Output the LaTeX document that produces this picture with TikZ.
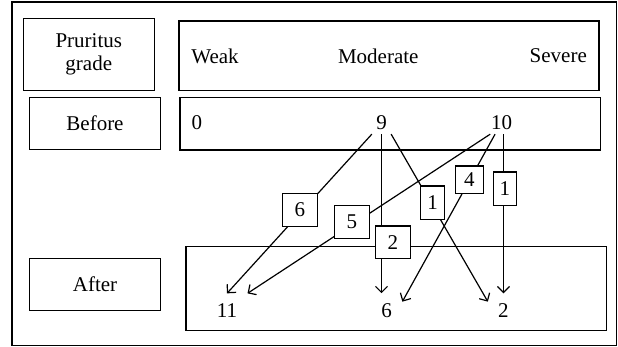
\documentclass[tikz,border=0pt]{standalone}
\usepackage{fontspec}
\setmainfont{Liberation Serif}
\usepackage{tikz}
\usetikzlibrary{arrows.meta}

\begin{document}
\begin{tikzpicture}[x=0.5pt,y=-0.5pt,font=\fontsize{10.5}{11.5}\selectfont,
	box/.style={draw,line width=0.6pt,inner sep=0pt,align=center},
	cnt/.style={draw,fill=white,line width=0.6pt,inner sep=0pt},
	srcval/.style={inner sep=2pt},
	dstval/.style={inner sep=5pt},
	arr/.style={-{Straight Barb[length=3pt,width=6pt]},line width=0.6pt}]
		\useasboundingbox (0,0) rectangle (618,347);
		\draw[line width=0.6pt] (12,2) rectangle (616.5,345.5);
		\draw[color=black]
		node[box,minimum width=65.5pt,minimum height=36.2pt] (grade) at (88.8,54.5){Pruritus\\grade}
		node[box,minimum width=210pt,minimum height=34.85pt] (scale) at (389,55.9){}
		node (weak) at (215,56){Weak}
		node (moderate) at (378.3,56){Moderate}
		node (severe) at (558.3,56){Severe}
		node[box,minimum width=65.7pt,minimum height=26pt] (before) at (95,123.3){Before}
		node[box,minimum width=210.35pt,minimum height=26.35pt] (beforerow) at (390.35,123.65){}
		node[box,minimum width=65.7pt,minimum height=26pt] (after) at (95,284.7){After}
		node[box,minimum width=210.35pt,minimum height=42pt] (afterrow) at (396.35,288.7){};
		% values before
		\draw[color=black]
		node[srcval] (b0) at (197,123){0}
		node[srcval] (b9) at (381.5,122.7){9}
		node[srcval] (b10) at (501.7,122.7){10};
		% values after
		\draw[color=black]
		node[dstval] (a11) at (227,310.7){11}
		node[dstval] (a6) at (386.7,310.7){6}
		node[dstval] (a2) at (503.5,310.7){2};
		\draw [arr] (b9.south west) -- (a11.north);
		\draw [arr] (b9) -- (b9 |- a6.north);
		\draw [arr] (b9.south east) -- (a2.150);
		\draw [arr] (b10.225) -- (a11.north east);
		\draw [arr] (b10.240) -- (a6.30);
		\draw [arr] (a2 |- b10.south) -- (a2.north);
		% patient counts
		\draw[color=black]
		node[cnt,minimum width=17.3pt,minimum height=16.7pt] (c6) at (300,210){6}
		node[cnt,minimum width=17.5pt,minimum height=16.5pt] (c5) at (351.8,221.8){5}
		node[cnt,minimum width=17.5pt,minimum height=16.35pt] (c2) at (392.8,242.3){2}
		node[cnt,minimum width=11.8pt,minimum height=16.65pt] (c1a) at (432.5,202.7){1}
		node[cnt,minimum width=14pt,minimum height=13.75pt] (c4) at (469.3,179.8){4}
		node[cnt,minimum width=11.7pt,minimum height=16.65pt] (c1b) at (505,188.7){1};
		\end{tikzpicture}
\end{document}
